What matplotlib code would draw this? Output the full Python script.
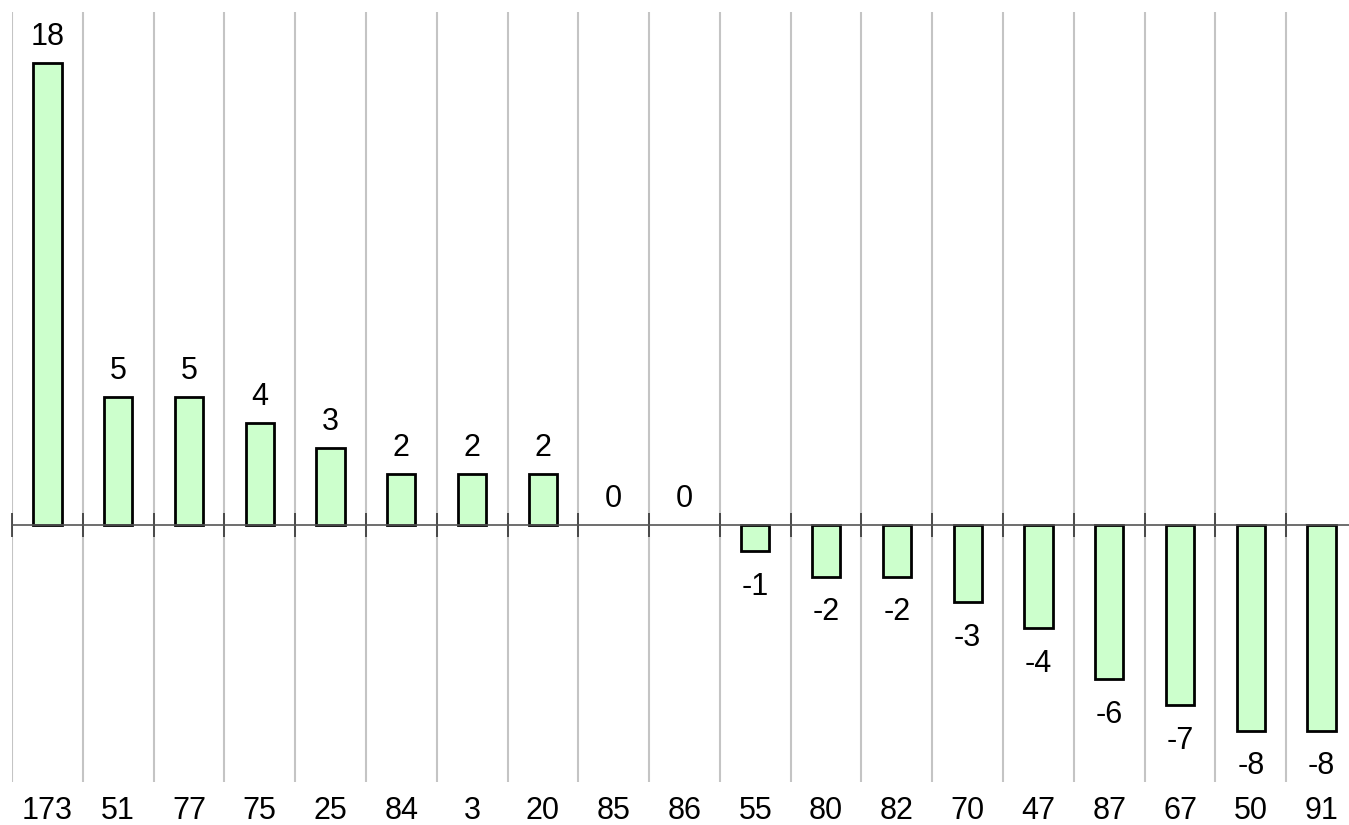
import matplotlib
matplotlib.use('Agg')
from matplotlib import pyplot as plt
import numpy as np

# entries and their net change
labels = ['173', '51', '77', '75', '25', '84', '3', '20', '85', '86',
          '55', '80', '82', '70', '47', '87', '67', '50', '91']
values = [18, 5, 5, 4, 3, 2, 2, 2, 0, 0,
          -1, -2, -2, -3, -4, -6, -7, -8, -8]

plt.rcParams['font.family'] = ['Liberation Sans', 'DejaVu Sans']

fig = plt.figure(figsize=(13.49, 8.25), dpi=100)
ax = fig.add_axes([12/1349, 43/825, 1345/1349, 770/825])

x = np.arange(len(values))
# no outline for empty bars
lws = [2 if v != 0 else 0 for v in values]
ax.bar(x, values, width=0.4, color='#ccffcc', edgecolor='black', linewidth=lws, zorder=3)

# value labels
for xi, v in zip(x, values):
    if v >= 0:
        ax.annotate(str(v), (xi, v), xytext=(0, 8), textcoords='offset points',
                    ha='center', va='bottom', fontsize=22)
    else:
        ax.annotate(str(v), (xi, v), xytext=(0, -15), textcoords='offset points',
                    ha='center', va='top', fontsize=22)

ax.set_xlim(-0.5, len(values) - 0.5)
ax.set_ylim(-10, 20)

# vertical grid at category boundaries
for b in np.arange(len(values)) - 0.5:
    ax.axvline(b, color='#c4c4c4', linewidth=1.5, zorder=0.5)

ax.set_xticks(x)
ax.set_xticklabels(labels, fontsize=22)
ax.tick_params(axis='x', length=0, pad=10)
ax.set_yticks([])
for s in ax.spines.values():
    s.set_visible(False)

# zero line with ticks at boundaries
zax = ax.secondary_xaxis(1/3)
zax.set_zorder(5)
zax.set_xticks(np.arange(len(values)) - 0.5)
zax.set_xticklabels([])
zax.tick_params(direction='inout', length=17, width=1.2, color='#333333')
zax.spines['bottom'].set_color('#555555')
zax.spines['bottom'].set_linewidth(1.2)

plt.savefig('out.png', dpi=100)
